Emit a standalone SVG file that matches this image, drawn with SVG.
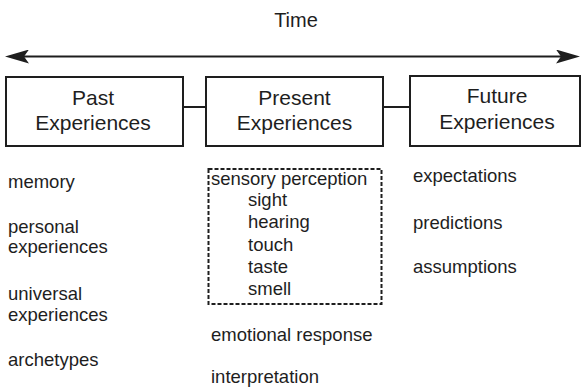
<svg xmlns="http://www.w3.org/2000/svg" width="581" height="391" viewBox="0 0 581 391">
<style>
text{font-family:"Liberation Sans",Arial,sans-serif;fill:#1e1e1e}
.title{font-size:20px;text-anchor:middle}
.box{fill:#fff;stroke:#1e1e1e;stroke-width:2}
.lbl{font-size:21px;text-anchor:middle}
.item{font-size:18.5px}
.dash{fill:none;stroke:#1e1e1e;stroke-width:2;stroke-dasharray:4 2}
.conn{stroke:#1e1e1e;stroke-width:2;fill:none}
</style>
<defs>
<marker id="ah" viewBox="0 0 24 14" refX="14" refY="7" markerWidth="24" markerHeight="14" markerUnits="userSpaceOnUse" orient="auto-start-reverse">
<path d="M0,0 L24,7 L0,14 L5,7 Z" fill="#1e1e1e"/>
</marker>
</defs>
<rect width="581" height="391" fill="#fff"/>
<g id="time">
<text class="title" x="296" y="27">Time</text>
</g>
<g id="connectors">
<line class="conn" x1="15" y1="56.5" x2="570" y2="56.5" marker-start="url(#ah)" marker-end="url(#ah)"/>
<line class="conn" x1="183" y1="107" x2="206" y2="107"/>
<line class="conn" x1="383" y1="107" x2="410" y2="107"/>
</g>
<g id="past">
<rect class="box" x="6" y="77" width="177" height="69"/>
<text class="lbl" x="93" y="105">Past</text>
<text class="lbl" x="93" y="130">Experiences</text>
</g>
<g id="present">
<rect class="box" x="206" y="77" width="177" height="69"/>
<text class="lbl" x="294.5" y="105">Present</text>
<text class="lbl" x="294.5" y="130">Experiences</text>
</g>
<g id="future">
<rect class="box" x="410" y="76" width="170" height="70"/>
<text class="lbl" x="497" y="103">Future</text>
<text class="lbl" x="497" y="129">Experiences</text>
</g>
<g id="past-items">
<text class="item" x="8" y="188">memory</text>
<text class="item" x="8" y="233">personal</text>
<text class="item" x="8" y="253">experiences</text>
<text class="item" x="8" y="300">universal</text>
<text class="item" x="8" y="320.5">experiences</text>
<text class="item" x="8" y="366">archetypes</text>
</g>
<g id="sensory">
<rect class="dash" x="208.5" y="169" width="173" height="135"/>
<text class="item" x="211" y="185">sensory perception</text>
<text class="item" x="248" y="206">sight</text>
<text class="item" x="248" y="228">hearing</text>
<text class="item" x="248" y="250.5">touch</text>
<text class="item" x="248" y="272.5">taste</text>
<text class="item" x="248" y="294.5">smell</text>
</g>
<g id="present-items">
<text class="item" x="211" y="341">emotional response</text>
<text class="item" x="211" y="383">interpretation</text>
</g>
<g id="future-items">
<text class="item" x="413" y="182">expectations</text>
<text class="item" x="413" y="228.5">predictions</text>
<text class="item" x="413" y="272.5">assumptions</text>
</g>
</svg>
